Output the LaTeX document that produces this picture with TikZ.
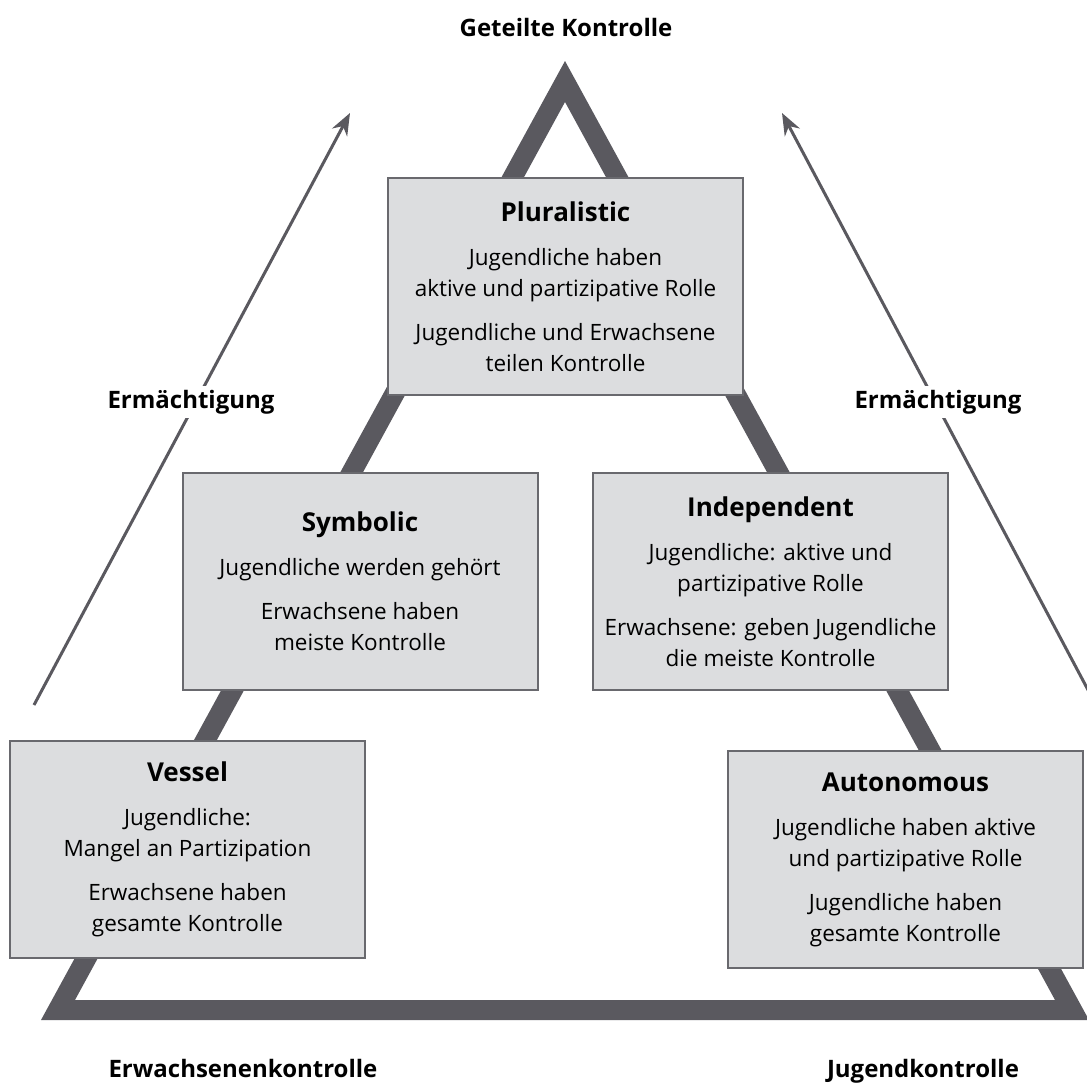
\documentclass[tikz,border=0pt]{standalone}
\usepackage{fontspec}
\setmainfont{Open Sans}
\usetikzlibrary{arrows.meta}
\definecolor{tri}{RGB}{90,89,95}
\definecolor{boxfill}{RGB}{220,221,223}
\definecolor{boxline}{RGB}{105,105,110}
\newcommand\boxtitle[1]{{\fontsize{26}{31}\selectfont\bfseries #1}}
\begin{document}
\begin{tikzpicture}[x=1pt,y=-1pt,
  stagebox/.style={draw=boxline, fill=boxfill, line width=2pt, minimum width=355pt,
    minimum height=217pt, align=center, inner sep=0pt,
    font=\fontsize{22.5}{31}\selectfont},
  outerlabel/.style={font=\fontsize{24}{28}\selectfont\bfseries, anchor=base},
  arr/.style={draw=tri, line width=3pt, -{Stealth[length=22pt,width=17pt]}}]
\useasboundingbox (0,0) rectangle (1087,1084);
% triangle
\fill[tri,even odd rule] (565,61) -- (41,1020) -- (1089,1020) -- cycle
  (565,102) -- (75,1000) -- (1055,1000) -- cycle;
% arrows
\coordinate (la0) at (34,705);
\coordinate (la1) at (350,113);
\coordinate (ra0) at (1096,705);
\coordinate (ra1) at (782,113);
\draw[arr] (la0) -- (la1);
\draw[arr] (ra0) -- (ra1);
\node[outerlabel, fill=white, inner sep=4pt] (le) at (191,408) {Ermächtigung};
\node[outerlabel, fill=white, inner sep=4pt] (re) at (938,408) {Ermächtigung};
% labels
\node[outerlabel] (top) at (566,36) {Geteilte Kontrolle};
\node[outerlabel] (bl) at (243,1077) {Erwachsenenkontrolle};
\node[outerlabel] (br) at (923,1077) {Jugendkontrolle};
% boxes
\node[stagebox] (plur) at (565.5,286.5) {\boxtitle{Pluralistic}\\[13pt]
  Jugendliche haben\\ aktive und partizipative Rolle\\[13pt]
  Jugendliche und Erwachsene\\ teilen Kontrolle};
\node[stagebox] (symb) at (360,581) {\boxtitle{Symbolic}\\[13pt]
  Jugendliche werden gehört\\[13pt]
  Erwachsene haben\\ meiste Kontrolle};
\node[stagebox] (inde) at (770.5,581.5) {\boxtitle{Independent}\\[13pt]
  Jugendliche: aktive und\\ partizipative Rolle\\[13pt]
  Erwachsene: geben Jugendliche\\ die meiste Kontrolle};
\node[stagebox] (vess) at (187.5,849) {\boxtitle{Vessel}\\[13pt]
  Jugendliche:\\ Mangel an Partizipation\\[13pt]
  Erwachsene haben\\ gesamte Kontrolle};
\node[stagebox] (auto) at (905.5,859.5) {\boxtitle{Autonomous}\\[13pt]
  Jugendliche haben aktive\\ und partizipative Rolle\\[13pt]
  Jugendliche haben\\ gesamte Kontrolle};
\end{tikzpicture}
\end{document}
